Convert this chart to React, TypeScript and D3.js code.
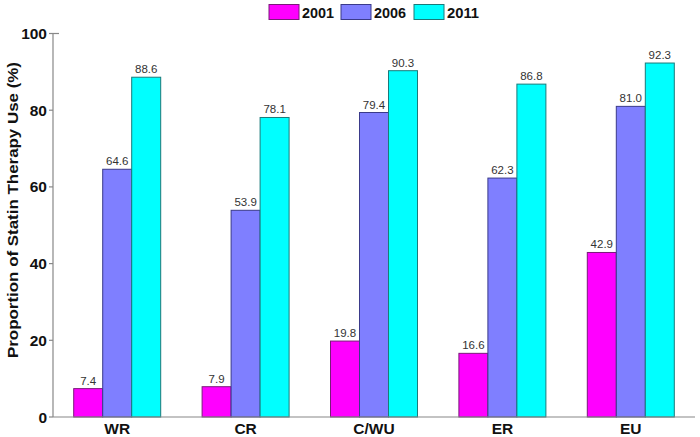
import React from "react";
import * as d3 from "d3";

const categories = ["WR", "CR", "C/WU", "ER", "EU"];
const seriesNames = ["2001", "2006", "2011"];
const values2001 = [7.4, 7.9, 19.8, 16.6, 42.9];
const values2006 = [64.6, 53.9, 79.4, 62.3, 81.0];
const values2011 = [88.6, 78.1, 90.3, 86.8, 92.3];
const yTicks = [0, 20, 40, 60, 80, 100];
const fills = ["#ff00ff", "#7f7fff", "#00ffff"];
const strokes = ["#7a1a7a", "#3a3a8a", "#1a7a7a"];
const yTitle = "Proportion of Statin Therapy Use (%)";

const W = 700, H = 437;
const left = 53, right = 695, top = 33.5, bottom = 417;

export default function App() {
  const series = [values2001, values2006, values2011];
  const x = d3.scaleBand<string>().domain(categories).range([left, right]).padding(0);
  const y = d3.scaleLinear().domain([0, 100]).range([bottom, top]);
  const barW = 29;
  const font = "Arial, 'Liberation Sans', sans-serif";
  const legendX = [269, 341, 414];
  return (
    <svg width={W} height={H} style={{ position: "absolute", left: 0, top: 0, background: "#fff" }}>
      {/* legend */}
      {seriesNames.map((s, i) => (
        <g key={s}>
          <rect x={legendX[i]} y={4.5} width={30} height={15} fill={fills[i]} stroke={strokes[i]} strokeWidth={1} />
          <text x={legendX[i] + 33} y={17.5} fontFamily={font} fontWeight="bold" fontSize={15} fill="#111" textLength={32} lengthAdjust="spacingAndGlyphs">{s}</text>
        </g>
      ))}
      {/* bars */}
      {categories.map((c, ci) => {
        const cx = (x(c) as number) + x.bandwidth() / 2;
        return series.map((vals, si) => {
          const bx = cx - 1.5 * barW + si * barW;
          const v = vals[ci];
          return (
            <g key={c + si}>
              <rect x={bx} y={y(v)} width={barW} height={bottom - y(v)} fill={fills[si]} stroke={strokes[si]} strokeWidth={1} />
              <text x={bx + barW / 2} y={y(v) - 4} textAnchor="middle" fontFamily={font} fontSize={11.5} fill="#333">{v.toFixed(1)}</text>
            </g>
          );
        });
      })}
      {/* axes */}
      <line x1={left} x2={right} y1={bottom} y2={bottom} stroke="#888" strokeWidth={1.2} />
      <line x1={left} x2={left} y1={top} y2={bottom} stroke="#888" strokeWidth={1.2} />
      {yTicks.map((t) => (
        <g key={t}>
          <line x1={left - 4} x2={t === 100 ? left + 6 : left} y1={y(t)} y2={y(t)} stroke="#888" strokeWidth={1.2} />
          <text x={left - 6} y={y(t) + 5.5} textAnchor="end" fontFamily={font} fontWeight="bold" fontSize={15.5} fill="#111">{t}</text>
        </g>
      ))}
      {categories.map((c) => (
        <text key={c} x={(x(c) as number) + x.bandwidth() / 2} y={434} textAnchor="middle" fontFamily={font} fontWeight="bold" fontSize={15.5} fill="#111">{c}</text>
      ))}
      <text transform={`translate(18,${(62 + 358) / 2}) rotate(-90)`} textAnchor="middle" fontFamily={font} fontWeight="bold" fontSize={15.5} fill="#111" textLength={296} lengthAdjust="spacingAndGlyphs">{yTitle}</text>
    </svg>
  );
}
